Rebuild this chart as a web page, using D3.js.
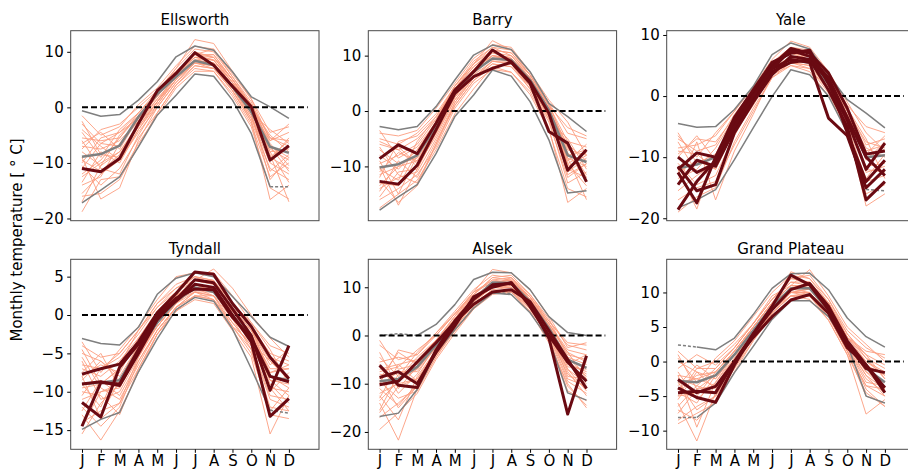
<!DOCTYPE html>
<html>
<head>
<meta charset="utf-8">
<script src="https://cdn.jsdelivr.net/npm/d3@7"></script>
<style>
body { margin: 0; background: #fff; }
svg { display: block; font-family: "DejaVu Sans", sans-serif; }
</style>
</head>
<body>
<svg id="chart" width="908" height="470"></svg>
<script>
var months = ["J", "F", "M", "A", "M", "J", "J", "A", "S", "O", "N", "D"]
var panelNames = ["Ellsworth", "Barry", "Yale", "Tyndall", "Alsek", "Grand Plateau"]
var yDomains = [[-20.4, 13.8], [-19.8, 14.5], [-20.4, 10.7], [-17.5, 7.26], [-23.6, 15.8], [-12.7, 14.8]]
var yTickValues = [[-20, -10, 0, 10], [-10, 0, 10], [-20, -10, 0, 10], [-15, -10, -5, 0, 5], [-20, -10, 0, 10], [-10, -5, 0, 5, 10]]

// ---- Ellsworth
var ellsworthYears = [
    [-3.0, -6.5, -4.5, -1.0, 2.5, 6.5, 9.5, 9.0, 5.0, 0.5, -5.5, -6.0],
    [-12.5, -10.0, -8.0, -3.5, 1.0, 5.0, 8.0, 7.5, 3.5, -1.5, -9.0, -11.0],
    [-6.5, -4.5, -7.5, -2.0, 2.0, 6.0, 9.0, 8.5, 4.5, -0.5, -6.0, -4.5],
    [-15.5, -12.0, -9.5, -4.5, 0.0, 4.5, 7.5, 7.0, 3.0, -2.5, -11.0, -13.0],
    [-8.0, -10.5, -5.0, -1.5, 2.5, 7.0, 10.5, 10.0, 5.5, 1.0, -7.0, -9.0],
    [-1.5, -5.0, -3.5, 0.5, 3.5, 7.5, 11.0, 10.5, 6.0, 1.5, -4.5, -3.5],
    [-10.5, -14.0, -11.0, -5.5, -1.0, 4.0, 7.0, 6.5, 2.5, -3.0, -12.5, -10.0],
    [-18.8, -13.0, -12.5, -6.5, -1.5, 3.5, 6.5, 6.5, 2.0, -3.5, -14.5, -16.5],
    [-7.0, -7.5, -6.0, -2.5, 1.5, 5.5, 8.5, 8.0, 4.0, -1.0, -8.0, -7.5],
    [-4.5, -9.0, -4.0, -1.0, 3.0, 6.5, 9.5, 9.5, 5.0, 0.0, -5.0, -8.0],
    [-13.5, -8.0, -10.0, -4.0, 0.5, 5.0, 8.0, 7.5, 3.0, -2.0, -10.0, -12.0],
    [-9.5, -11.5, -8.5, -3.0, 1.0, 5.5, 9.0, 8.5, 4.0, -0.5, -9.5, -5.5],
    [-5.5, -6.0, -5.5, -1.5, 2.0, 6.0, 8.5, 9.0, 4.5, 0.5, -6.5, -10.5],
    [-16.0, -15.5, -13.0, -7.0, -1.0, 4.0, 7.5, 7.0, 3.0, -2.5, -16.6, -14.0],
    [-11.0, -6.5, -7.0, -2.0, 2.5, 6.0, 10.0, 9.0, 5.0, 0.0, -7.5, -9.5],
    [-2.5, -8.5, -9.0, -3.5, 1.0, 5.0, 8.5, 8.0, 4.0, -1.0, -4.0, -6.5],
    [-14.0, -12.5, -6.5, -2.5, 2.0, 6.5, 9.5, 8.5, 4.5, -0.5, -8.5, -17.0],
    [-7.5, -4.0, -3.0, 0.0, 3.0, 7.0, 12.2, 11.5, 6.5, 1.5, -6.0, -3.0],
    [-9.0, -16.5, -14.5, -6.0, 0.0, 4.5, 8.0, 7.5, 3.5, -1.5, -11.5, -8.5],
    [-12.0, -9.5, -5.5, -1.0, 2.5, 6.5, 9.0, 9.5, 5.0, 0.5, -7.0, -11.5],
    [-6.0, -11.0, -12.0, -5.0, 0.5, 5.0, 8.0, 7.0, 3.5, -2.0, -9.0, -6.0],
    [-17.0, -10.5, -8.0, -3.0, 1.5, 5.5, 8.5, 8.0, 3.5, -1.0, -13.0, -9.0],
    [-4.0, -7.0, -9.5, -4.0, 1.0, 6.0, 9.5, 10.5, 5.5, 0.5, -5.5, -7.0],
    [-10.0, -5.5, -4.5, -2.0, 2.0, 6.0, 9.0, 8.5, 4.5, 0.0, -8.0, -13.5]
]
var ellsworthHighlight = [
    [-11.0, -11.6, -9.2, -2.9, 3.0, 6.1, 9.85, 7.6, 3.8, 0.1, -9.5, -6.9]
]
var ellsworthMean = [-8.9, -8.4, -6.9, -1.7, 2.4, 5.5, 8.4, 7.6, 3.7, -0.8, -7.1, -8.2]
var ellsworthHi = [-0.6, -1.6, -1.3, 1.3, 4.6, 9.1, 11.05, 10.3, 6.4, 1.9, 0.1, -2.0]
var ellsworthLo = [-17.2, -14.9, -12.5, -7.1, -1.4, 2.2, 6.0, 5.6, 1.3, -4.7, -14.3, null]
var ellsworthHiDash = [null, null, null, null, null, null, null, null, null, null, null, null]
var ellsworthLoDash = [null, null, null, null, null, null, null, null, null, null, -14.3, -14.3]

// ---- Barry
var barryYears = [
    [-5.0, -6.0, -4.0, -0.5, 4.5, 8.5, 11.0, 10.5, 6.5, 1.0, -5.5, -6.5],
    [-14.0, -12.0, -11.0, -5.0, 1.5, 6.0, 8.5, 8.0, 4.5, -1.0, -10.5, -12.0],
    [-8.0, -10.5, -7.0, -2.0, 3.5, 7.5, 10.0, 9.5, 6.0, 0.5, -7.0, -8.0],
    [-17.5, -15.0, -12.5, -7.0, -0.5, 4.0, 8.0, 7.0, 3.0, -3.5, -14.0, -15.5],
    [-11.0, -7.5, -9.0, -3.0, 3.0, 7.0, 9.5, 9.0, 5.0, 0.0, -8.5, -10.0],
    [-4.0, -4.5, -3.5, 0.5, 5.0, 9.5, 12.0, 11.5, 7.0, 1.5, -4.0, -5.0],
    [-12.5, -16.5, -13.5, -6.0, 1.0, 5.5, 8.5, 8.0, 4.0, -2.0, -12.0, -9.5],
    [-9.5, -8.0, -6.0, -1.5, 4.0, 8.0, 10.5, 10.0, 6.0, 1.0, -6.5, -11.5],
    [-15.5, -11.0, -10.5, -4.0, 2.0, 6.5, 9.0, 8.5, 5.0, -0.5, -9.5, -13.5],
    [-7.0, -9.5, -8.5, -3.5, 2.5, 7.0, 9.5, 9.5, 5.5, 0.0, -8.0, -7.0],
    [-13.0, -13.5, -7.5, -2.5, 3.0, 7.5, 10.0, 9.0, 5.5, 0.5, -11.0, -8.5],
    [-6.0, -7.0, -10.0, -4.5, 2.0, 6.0, 9.0, 9.0, 5.0, -1.5, -5.0, -10.5],
    [-10.5, -12.5, -5.5, -1.0, 4.5, 8.5, 12.7, 11.0, 6.5, 1.5, -7.5, -12.5],
    [-16.0, -14.0, -11.5, -6.5, 0.5, 5.0, 7.5, 7.0, 3.5, -3.0, -16.5, -14.0],
    [-8.5, -6.5, -9.5, -2.5, 3.5, 7.5, 9.5, 10.0, 6.0, 0.5, -9.0, -6.0],
    [-11.5, -10.0, -7.0, -3.0, 3.0, 7.0, 10.5, 9.5, 5.5, 0.0, -6.0, -9.0],
    [-3.5, -8.5, -6.5, -2.0, 4.0, 8.0, 11.0, 10.5, 6.5, 1.0, -3.0, -4.5],
    [-14.5, -9.0, -12.0, -5.5, 1.0, 5.5, 8.0, 8.5, 4.0, -1.5, -13.0, -11.0],
    [-9.0, -15.0, -8.0, -3.0, 2.5, 7.0, 9.5, 9.0, 5.0, -0.5, -8.5, -16.0],
    [-12.0, -5.5, -4.5, -1.0, 4.0, 8.5, 11.5, 10.0, 6.5, 1.0, -10.0, -8.0],
    [-6.5, -11.5, -13.0, -6.0, 1.5, 6.0, 9.0, 8.5, 4.5, -1.0, -6.5, -12.0],
    [-13.5, -10.0, -9.0, -4.0, 2.5, 6.5, 10.0, 9.5, 5.0, 0.0, -11.5, -9.5],
    [-10.0, -17.0, -10.5, -3.5, 3.0, 7.5, 10.0, 9.5, 6.0, 0.5, -9.5, -7.5],
    [-5.5, -7.0, -5.0, -1.5, 4.5, 9.0, 11.5, 11.0, 7.0, 2.0, -2.0, -8.0]
]
var barryHighlight = [
    [-8.6, -6.1, -7.7, -2.2, 3.8, 7.1, 11.0, 8.9, 5.3, -0.4, -10.7, -7.0],
    [-12.7, -13.2, -9.8, -3.4, 3.2, 6.2, 7.7, 8.8, 5.0, -3.7, -5.8, -12.8]
]
var barryMean = [-10.2, -9.6, -8.0, -2.8, 3.2, 7.1, 9.5, 9.2, 5.6, 0.2, -8.0, -9.2]
var barryHi = [-2.8, -3.4, -2.8, 0.8, 5.6, 10.1, 11.9, 11.1, 7.1, 1.4, -1.0, -3.7]
var barryLo = [-17.9, -15.5, -13.3, -7.7, -1.0, 2.9, 7.4, 6.3, 1.7, -5.2, -14.8, -14.4]
var barryHiDash = [null, null, null, null, null, null, null, null, null, null, null, null]
var barryLoDash = [null, null, null, null, null, null, null, null, null, null, null, null]

// ---- Yale
var yaleYears = [
    [-7.0, -9.0, -8.0, -3.0, 1.0, 5.5, 7.0, 6.5, 3.0, -2.0, -8.0, -7.0],
    [-12.5, -10.5, -12.0, -5.5, -0.5, 4.0, 5.5, 5.0, 1.5, -4.0, -11.5, -11.0],
    [-9.5, -7.0, -7.5, -3.5, 1.0, 5.0, 7.5, 7.0, 3.0, -2.5, -7.5, -8.5],
    [-15.5, -13.0, -11.0, -6.0, -1.5, 3.5, 5.5, 4.5, 1.0, -4.5, -14.0, -13.0],
    [-6.0, -11.0, -9.5, -4.0, 0.5, 4.5, 6.5, 6.0, 2.5, -3.0, -9.5, -6.5],
    [-11.0, -14.5, -13.0, -6.5, -1.0, 4.0, 6.0, 5.5, 1.5, -4.0, -12.0, -12.5],
    [-8.5, -8.0, -6.5, -2.5, 1.5, 6.0, 9.0, 8.0, 4.0, -1.0, -6.0, -9.0],
    [-17.0, -15.0, -14.0, -8.0, -2.5, 3.0, 5.0, 4.5, 0.5, -5.5, -16.0, -14.5],
    [-10.0, -6.5, -10.5, -4.5, 0.0, 4.5, 6.5, 6.5, 2.0, -3.0, -8.5, -10.0],
    [-13.5, -12.0, -8.5, -3.5, 0.5, 5.0, 7.0, 6.0, 2.5, -2.5, -10.5, -7.5],
    [-7.5, -12.5, -11.5, -5.0, 0.0, 4.5, 6.0, 7.0, 3.5, -3.5, -12.5, -11.5],
    [-19.0, -16.5, -15.0, -7.5, -2.0, 3.0, 5.5, 5.0, 1.0, -5.0, -18.0, -16.0],
    [-9.0, -9.5, -12.0, -5.5, -0.5, 4.0, 6.5, 5.5, 2.0, -3.5, -9.0, -8.0],
    [-12.0, -18.5, -9.5, -4.0, 1.0, 5.0, 7.5, 6.5, 3.0, -2.0, -7.0, -13.5],
    [-14.5, -7.5, -17.0, -9.0, -3.0, 3.5, 5.0, 4.0, 0.0, -5.5, -13.5, -9.5],
    [-6.5, -10.0, -6.0, -2.5, 1.5, 5.5, 8.0, 7.5, 3.5, -1.5, -5.0, -6.0]
]
var yaleHighlight = [
    [-10.0, -12.5, -11.0, -4.5, 0.5, 5.0, 7.8, 7.0, 3.8, -2.0, -9.5, -9.0],
    [-12.0, -9.3, -10.0, -3.5, 1.0, 5.5, 7.0, 7.5, 2.0, -4.0, -12.0, -7.7],
    [-14.5, -10.5, -11.5, -5.5, -0.5, 4.5, 6.0, 5.5, -3.6, -6.5, -15.0, -12.0],
    [-18.6, -14.0, -10.5, -4.0, 0.0, 4.0, 5.5, 6.0, 1.0, -5.0, -17.0, -14.0],
    [-11.5, -15.5, -14.5, -6.0, -1.0, 3.5, 6.5, 6.0, 2.5, -6.0, -14.0, -10.5],
    [-12.5, -17.5, -10.0, -5.0, 0.0, 4.5, 7.5, 6.5, 3.0, -3.5, -10.0, -13.0]
]
var yaleMean = [-11.8, -11.2, -10.0, -4.5, 0.2, 4.5, 6.0, 5.5, 2.0, -3.5, -10.0, -9.7]
var yaleHi = [-4.5, -5.1, -5.0, -2.2, 1.6, 6.8, 8.7, 7.7, 3.5, -0.6, -2.8, -5.2]
var yaleLo = [-18.3, -17.0, -15.3, -10.4, -5.2, -0.1, 4.3, 3.5, 0.0, -6.0, -15.3, null]
var yaleHiDash = [null, null, null, null, null, null, null, null, null, null, null, null]
var yaleLoDash = [null, null, null, null, null, null, null, null, null, null, -15.3, -15.5]

// ---- Tyndall
var tyndallYears = [
    [-4.0, -5.5, -5.0, -2.0, 1.5, 4.0, 5.0, 4.5, 1.5, -1.5, -5.0, -6.0],
    [-11.0, -10.0, -9.5, -5.0, -1.5, 1.5, 3.5, 3.0, -0.5, -3.5, -9.5, -10.0],
    [-7.0, -8.0, -6.0, -3.0, 0.0, 2.5, 4.0, 3.5, 0.5, -2.5, -7.0, -7.0],
    [-14.0, -12.5, -11.5, -7.0, -2.5, 1.0, 3.0, 2.5, -1.5, -4.5, -12.0, -12.5],
    [-8.5, -6.0, -8.0, -4.0, -0.5, 2.0, 4.5, 4.0, 1.0, -2.0, -6.0, -8.0],
    [-3.5, -7.5, -4.5, -1.5, 2.0, 5.0, 5.5, 5.5, 2.5, -1.0, -4.0, -5.0],
    [-12.0, -14.5, -12.0, -6.0, -2.0, 1.0, 2.5, 2.0, -1.0, -4.0, -10.5, -11.0],
    [-9.5, -9.0, -7.0, -3.5, 0.0, 2.5, 4.0, 3.0, 0.0, -3.0, -8.5, -9.0],
    [-6.0, -11.0, -10.0, -5.5, -1.0, 2.0, 3.5, 3.5, 0.5, -2.5, -7.5, -6.5],
    [-15.5, -11.5, -9.0, -4.5, -1.5, 1.5, 3.0, 2.5, -0.5, -4.5, -13.0, -13.5],
    [-10.5, -7.0, -5.5, -2.5, 1.0, 3.5, 4.5, 4.5, 1.5, -1.5, -8.0, -9.5],
    [-5.5, -9.5, -11.0, -6.5, -2.0, 1.0, 3.0, 2.0, -1.5, -3.5, -6.0, -8.5],
    [-13.0, -16.3, -12.5, -7.5, -2.5, 0.5, 2.0, 1.5, -2.0, -5.5, -15.5, -10.5],
    [-8.0, -6.5, -7.5, -3.0, 0.5, 3.0, 5.0, 4.5, 1.0, -2.0, -5.5, -6.5],
    [-11.5, -13.0, -8.5, -4.0, -1.0, 2.0, 3.5, 3.5, 0.0, -3.0, -9.0, -11.5],
    [-7.5, -5.0, -9.5, -5.0, -1.5, 1.5, 4.0, 3.0, -0.5, -2.5, -10.0, -7.5],
    [-9.0, -12.0, -6.5, -2.0, 1.5, 3.5, 5.0, 4.0, 1.5, -1.0, -4.5, -9.0],
    [-12.5, -8.5, -10.5, -6.0, -2.0, 1.0, 2.5, 2.5, -1.0, -4.0, -11.0, -12.0],
    [-4.5, -9.0, -7.0, -3.5, 0.5, 2.5, 4.5, 6.0, 3.5, 0.0, -3.0, -5.5],
    [-10.0, -10.5, -13.0, -7.0, -2.5, 0.5, 2.5, 2.0, -1.5, -5.0, -12.5, -9.5],
    [-6.5, -7.0, -5.0, -2.0, 1.0, 3.0, 4.5, 4.0, 1.0, -2.0, -6.5, -4.5],
    [-14.5, -10.0, -9.0, -5.0, -1.0, 2.0, 3.0, 3.0, -0.5, -3.5, -9.5, -12.5],
    [-8.0, -13.5, -11.5, -5.5, -1.5, 1.5, 3.5, 2.5, 0.5, -3.0, -8.5, -10.5],
    [-5.0, -6.0, -8.5, -4.0, 0.0, 2.5, 4.0, 3.5, 0.0, -2.0, -7.5, -7.0]
]
var tyndallHighlight = [
    [-7.7, -7.0, -6.4, -3.5, 0.3, 2.8, 5.6, 5.3, 1.5, -1.5, -5.5, -8.3],
    [-9.0, -8.7, -9.2, -5.0, -0.6, 2.0, 4.6, 4.2, 0.8, -2.7, -9.8, -4.0],
    [-11.4, -13.3, -6.8, -3.8, -0.2, 1.8, 4.0, 3.6, 0.0, -3.5, -13.2, -10.9],
    [-14.5, -8.8, -9.0, -4.5, 0.0, 2.2, 3.4, 3.3, -0.3, -3.0, -8.0, -8.7]
]
var tyndallMean = [-9.0, -8.8, -8.5, -4.5, -1.0, 1.8, 3.6, 3.0, 0.0, -3.0, -8.0, -8.5]
var tyndallHi = [-3.05, -3.7, -3.9, -1.6, 2.7, 4.8, 5.5, 5.0, 2.4, -0.2, -2.9, -4.1]
var tyndallLo = [-14.9, -13.6, -12.7, -7.4, -3.1, 0.7, 2.3, 1.8, -1.8, -7.0, -12.4, null]
var tyndallHiDash = [null, null, null, null, null, null, null, null, null, null, null, null]
var tyndallLoDash = [null, null, null, null, null, null, null, null, null, null, -12.4, -12.8]

// ---- Alsek
var alsekYears = [
    [-2.0, -5.0, -4.0, 0.0, 4.5, 9.0, 11.5, 12.0, 8.0, 2.5, -3.0, -4.0],
    [-12.0, -10.0, -9.0, -3.0, 2.0, 6.5, 9.5, 10.0, 6.5, 0.5, -7.0, -10.0],
    [-7.0, -6.0, -5.0, -1.0, 3.5, 8.0, 11.0, 11.0, 7.5, 2.0, -4.5, -6.0],
    [-17.0, -14.0, -10.5, -4.0, 1.0, 6.0, 9.0, 9.0, 5.5, -0.5, -9.5, -12.0],
    [-9.0, -3.5, -6.0, -2.0, 3.0, 7.5, 10.0, 10.5, 7.0, 1.5, -5.5, -8.0],
    [-4.5, -8.5, -3.5, 0.5, 5.0, 9.5, 12.5, 12.0, 8.5, 3.0, -2.0, -3.0],
    [-14.0, -21.7, -11.0, -4.5, 1.5, 6.5, 9.0, 9.5, 6.0, 0.0, -8.0, -11.0],
    [-10.5, -7.5, -7.5, -2.5, 2.5, 7.0, 10.5, 10.0, 7.0, 1.0, -6.0, -7.5],
    [-6.0, -12.0, -8.0, -2.0, 3.5, 8.0, 11.0, 11.5, 7.5, 2.0, -3.5, -9.0],
    [-19.5, -16.0, -12.0, -5.0, 0.5, 5.5, 8.5, 9.0, 5.0, -1.0, -10.5, -14.5],
    [-8.0, -9.0, -4.5, -1.0, 4.0, 8.5, 11.5, 11.0, 8.0, 2.5, -4.0, -5.0],
    [-13.0, -6.0, -9.5, -3.5, 2.0, 7.0, 10.0, 10.5, 6.5, 0.5, -7.5, -12.5],
    [-3.5, -11.0, -6.5, -1.5, 3.5, 8.5, 12.0, 11.5, 8.0, 3.0, -1.5, -2.0],
    [-11.0, -14.5, -10.0, -3.5, 1.5, 6.5, 9.5, 9.0, 6.0, 0.0, -9.0, -10.5],
    [-15.5, -8.0, -7.0, -2.5, 3.0, 7.5, 10.5, 11.0, 7.0, 1.5, -6.5, -7.0],
    [-5.5, -4.5, -5.5, -1.0, 4.0, 9.0, 13.7, 13.0, 9.5, 4.0, -2.5, -1.5],
    [-9.5, -13.0, -11.5, -4.5, 1.0, 6.0, 9.0, 9.5, 5.5, -0.5, -11.5, -13.5],
    [-7.5, -6.5, -3.0, 0.0, 4.5, 9.0, 11.0, 11.5, 8.0, 2.0, -5.0, -6.5],
    [-12.5, -17.5, -8.5, -3.0, 2.5, 7.0, 10.0, 10.0, 6.5, 1.0, -8.5, -9.0],
    [-1.0, -7.0, -6.0, -1.5, 3.0, 8.0, 10.5, 12.0, 7.5, 2.5, -3.5, -5.5],
    [-16.0, -10.5, -9.0, -4.0, 1.0, 5.5, 9.0, 8.5, 5.0, -1.5, -10.0, -15.0],
    [-10.0, -3.0, -4.0, 0.5, 4.5, 8.5, 12.0, 12.5, 8.5, 3.5, -4.5, -8.5],
    [-8.5, -15.0, -10.5, -3.0, 2.0, 7.0, 10.0, 10.0, 6.0, 1.0, -7.0, -11.5],
    [-13.5, -9.5, -7.0, -2.0, 3.5, 8.0, 10.5, 10.5, 7.5, 1.5, -6.0, -4.0]
]
var alsekHighlight = [
    [-6.2, -10.3, -10.8, -3.0, 3.0, 7.5, 10.5, 10.8, 6.5, -0.5, -16.3, -4.2],
    [-8.7, -7.5, -10.0, -3.5, 2.0, 8.0, 10.0, 11.0, 6.0, 0.0, -5.5, -9.5],
    [-10.2, -9.5, -5.5, -1.5, 2.8, 6.5, 9.0, 9.5, 7.0, 1.0, -5.0, -11.0]
]
var alsekMean = [-9.5, -9.0, -6.5, -2.0, 3.0, 7.5, 11.0, 10.9, 7.0, 1.5, -5.0, -6.7]
var alsekHi = [null, null, 0.0, 2.3, 6.4, 11.6, 13.1, 13.0, 9.5, 3.9, 0.6, 0.0]
var alsekLo = [-16.8, -16.1, -11.2, -3.6, 1.2, 5.7, 8.8, 8.5, 4.7, -0.8, -11.9, -13.4]
var alsekHiDash = [0.0, 0.4, 0.0, null, null, null, null, null, null, null, null, null]
var alsekLoDash = [null, null, null, null, null, null, 8.9, 8.7, null, null, null, null]

// ---- Grand Plateau
var grandPlateauYears = [
    [1.5, -1.0, 0.0, 2.5, 5.5, 9.0, 11.5, 11.5, 8.0, 3.5, 1.0, -0.5],
    [-5.0, -4.5, -3.5, 0.0, 3.5, 7.5, 10.0, 10.0, 7.0, 2.0, -2.5, -4.5],
    [-2.0, -2.5, -1.5, 1.5, 5.0, 8.5, 11.0, 11.0, 8.0, 3.0, 0.0, -2.0],
    [-8.5, -6.5, -5.0, -1.0, 3.0, 7.0, 9.5, 9.5, 6.5, 1.5, -5.0, -6.0],
    [-3.5, -0.5, -2.5, 1.0, 4.5, 8.0, 10.5, 11.0, 7.5, 2.5, -1.5, -3.0],
    [0.5, -3.0, 0.5, 3.0, 6.5, 10.0, 12.5, 12.0, 9.0, 4.5, 2.0, 0.5],
    [-6.0, -11.5, -4.5, -0.5, 3.5, 7.0, 9.5, 9.5, 6.5, 1.5, -3.5, -5.0],
    [-4.0, -2.0, -1.5, 1.5, 5.0, 8.5, 10.5, 10.5, 7.5, 2.5, -1.0, -1.5],
    [-1.5, -5.5, -3.0, 0.5, 4.0, 7.5, 10.5, 10.0, 7.0, 2.0, -2.0, -4.0],
    [-9.0, -7.5, -6.0, -1.5, 3.0, 6.5, 9.0, 9.5, 6.0, 1.0, -4.5, -6.5],
    [-2.5, -3.5, -1.0, 2.0, 5.5, 9.0, 11.5, 11.0, 8.5, 3.5, 0.5, -1.0],
    [-5.5, -1.5, -4.0, 0.0, 4.0, 8.0, 10.0, 10.5, 7.0, 2.0, -3.0, -3.5],
    [1.0, -4.0, -2.0, 1.5, 5.0, 8.5, 12.0, 12.5, 9.0, 4.0, 1.0, -2.5],
    [-7.0, -8.5, -5.5, -1.0, 3.5, 7.0, 9.5, 9.0, 6.0, 1.0, -7.6, -5.5],
    [-3.0, -2.5, -3.5, 0.5, 4.5, 8.0, 10.5, 11.5, 8.0, 3.0, -0.5, -2.0],
    [-1.0, 1.0, -0.5, 2.0, 5.5, 9.5, 11.0, 11.0, 8.5, 3.5, 1.5, 1.0],
    [-4.5, -6.0, -2.0, 1.0, 4.5, 8.0, 10.0, 10.0, 7.0, 2.5, -2.0, -5.0],
    [-6.5, -3.5, -4.5, 0.0, 3.5, 7.5, 10.0, 9.5, 6.5, 1.5, -3.5, -4.0],
    [-2.0, -9.5, -3.0, 1.0, 5.0, 8.5, 11.0, 13.3, 9.5, 5.0, 2.5, 0.0],
    [-4.0, -5.0, -1.5, 1.5, 5.0, 8.5, 11.0, 10.5, 7.5, 2.0, -1.0, -3.0],
    [0.0, -1.5, -2.5, 1.0, 4.5, 8.0, 13.0, 12.0, 8.5, 3.5, 0.0, -1.5],
    [-7.5, -4.0, -3.5, 0.0, 4.0, 7.5, 9.5, 10.0, 7.0, 2.0, -4.0, -6.5],
    [-3.0, -7.0, -5.0, -0.5, 3.5, 7.0, 10.0, 10.5, 7.5, 3.0, -1.5, -4.0],
    [-5.0, -1.0, -1.0, 2.0, 5.5, 9.0, 12.0, 11.5, 8.5, 4.0, 0.5, -2.5]
]
var grandPlateauHighlight = [
    [-2.6, -4.5, -3.6, 0.0, 4.0, 8.0, 12.5, 11.1, 7.5, 2.5, -1.0, -1.6],
    [-3.8, -5.2, -5.9, -0.5, 4.0, 7.5, 10.4, 11.3, 8.0, 3.0, -0.5, -4.5],
    [-4.5, -4.3, -4.5, 0.0, 3.5, 6.5, 8.9, 9.7, 7.0, 2.0, -0.5, -3.8]
]
var grandPlateauMean = [-2.8, -3.0, -2.0, 1.0, 4.5, 8.0, 10.6, 10.6, 7.5, 2.5, -1.0, -3.0]
var grandPlateauHi = [null, 2.1, 1.7, 3.4, 6.8, 10.6, 12.7, 12.8, 10.4, 6.3, 3.6, 2.1]
var grandPlateauLo = [null, -8.1, -6.0, -1.6, 2.2, 6.1, 8.8, 8.8, 6.5, 2.5, -5.0, -6.0]
var grandPlateauHiDash = [2.4, 2.1, null, null, null, null, null, null, null, null, null, null]
var grandPlateauLoDash = [-8.1, -8.1, null, null, null, null, null, null, null, null, null, null]

var panelYears = [ellsworthYears, barryYears, yaleYears, tyndallYears, alsekYears, grandPlateauYears]
var panelHighlights = [ellsworthHighlight, barryHighlight, yaleHighlight, tyndallHighlight, alsekHighlight, grandPlateauHighlight]
var panelMeans = [ellsworthMean, barryMean, yaleMean, tyndallMean, alsekMean, grandPlateauMean]
var panelHi = [ellsworthHi, barryHi, yaleHi, tyndallHi, alsekHi, grandPlateauHi]
var panelLo = [ellsworthLo, barryLo, yaleLo, tyndallLo, alsekLo, grandPlateauLo]
var panelHiDash = [ellsworthHiDash, barryHiDash, yaleHiDash, tyndallHiDash, alsekHiDash, grandPlateauHiDash]
var panelLoDash = [ellsworthLoDash, barryLoDash, yaleLoDash, tyndallLoDash, alsekLoDash, grandPlateauLoDash]

var layout = {
    lefts: [70.7, 368.3, 666.7],
    tops: [30.7, 259.3],
    width: 248.3,
    height: 190,
    fontSize: 15
}

function PanelBuilder(index, svgContainer) {

    var col = index % 3
    var row = Math.floor(index / 3)
    var left = layout.lefts[col]
    var top = layout.tops[row]

    var x = d3.scaleLinear().domain([-0.6, 12.6]).range([0, layout.width])
    var y = d3.scaleLinear().domain(yDomains[index]).range([layout.height, 0])

    var line = d3.line()
        .defined(function (d) { return d != null })
        .x(function (d, i) { return x(i) })
        .y(function (d) { return y(d) })

    function drawSeries(container, series, stroke, width, extra) {
        var path = container.append("path")
            .attr("d", line(series))
            .attr("fill", "none")
            .attr("stroke", stroke)
            .attr("stroke-width", width)
            .attr("stroke-linejoin", "round")
        if (extra) extra(path)
        return path
    }

    function styleAxis(axisGroup) {
        axisGroup.select(".domain").remove()
        axisGroup.selectAll("text")
            .attr("font-size", layout.fontSize)
            .attr("font-family", "DejaVu Sans")
            .attr("fill", "#000")
        axisGroup.selectAll("line").attr("stroke", "#000")
    }

    this.draw = function () {
        var g = svgContainer.append("g")
            .attr("id", "panel_" + index)
            .attr("transform", "translate(" + left + "," + top + ")")

        panelYears[index].forEach(function (aYear) {
            drawSeries(g, aYear, "#fc9d80", 1, function (p) { p.attr("stroke-opacity", 0.9) })
        })

        drawSeries(g, panelHi[index], "#7f7f7f", 1.5)
        drawSeries(g, panelLo[index], "#7f7f7f", 1.5)
        drawSeries(g, panelHiDash[index], "#7f7f7f", 1.5, function (p) { p.attr("stroke-dasharray", "3,2") })
        drawSeries(g, panelLoDash[index], "#7f7f7f", 1.5, function (p) { p.attr("stroke-dasharray", "3,2") })
        drawSeries(g, panelMeans[index], "#7f7f7f", 2.5)

        g.append("line")
            .attr("x1", x(0))
            .attr("x2", x(12))
            .attr("y1", y(0))
            .attr("y2", y(0))
            .attr("stroke", "#000")
            .attr("stroke-width", 2)
            .attr("stroke-dasharray", "6,3")

        panelHighlights[index].forEach(function (aYear) {
            drawSeries(g, aYear, "#6a0a12", 3)
        })

        g.append("rect")
            .attr("x", 0)
            .attr("y", 0)
            .attr("width", layout.width)
            .attr("height", layout.height)
            .attr("fill", "none")
            .attr("stroke", "#4a4a4a")
            .attr("stroke-width", 1)

        var yAxis = g.append("g")
            .call(d3.axisLeft(y).tickValues(yTickValues[index]).tickSize(3.5).tickPadding(3.5))
        styleAxis(yAxis)

        if (row === 1) {
            var xAxis = g.append("g")
                .attr("transform", "translate(0," + layout.height + ")")
                .call(d3.axisBottom(x).tickValues(d3.range(12)).tickFormat(function (i) { return months[i] }).tickSize(3.5).tickPadding(3))
            styleAxis(xAxis)
        }

        g.append("text")
            .attr("x", layout.width / 2)
            .attr("y", -5.5)
            .attr("text-anchor", "middle")
            .attr("font-size", layout.fontSize)
            .attr("fill", "#000")
            .text(panelNames[index])
    }
}

var svg = d3.select("#chart")

panelNames.forEach(function (name, i) {
    new PanelBuilder(i, svg).draw()
})

svg.append("text")
    .attr("transform", "translate(22,240) rotate(-90)")
    .attr("text-anchor", "middle")
    .attr("font-size", layout.fontSize)
    .attr("fill", "#000")
    .text("Monthly temperature [ ° C]")
</script>
</body>
</html>
